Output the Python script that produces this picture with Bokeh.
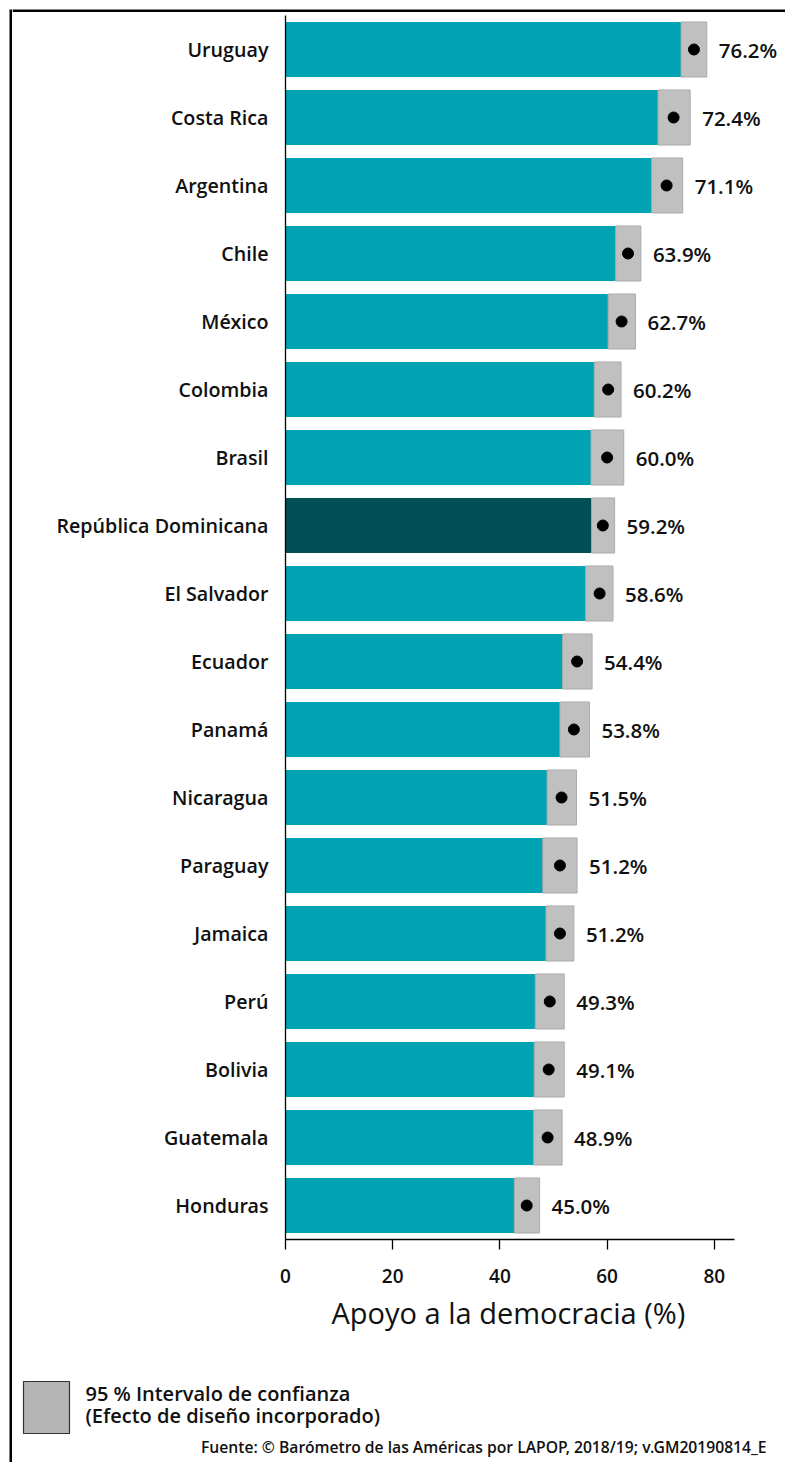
from bokeh.plotting import figure
from bokeh.layouts import row, column
from bokeh.models import FactorRange, Range1d, ColumnDataSource, FixedTicker, Title
from bokeh.embed import file_html
from bokeh.resources import INLINE
from bokeh.core.properties import value

countries = ["Uruguay", "Costa Rica", "Argentina", "Chile", "México", "Colombia",
             "Brasil", "República Dominicana", "El Salvador", "Ecuador", "Panamá",
             "Nicaragua", "Paraguay", "Jamaica", "Perú", "Bolivia", "Guatemala",
             "Honduras"]
support = [76.2, 72.4, 71.1, 63.9, 62.7, 60.2, 60.0, 59.2, 58.6, 54.4, 53.8,
           51.5, 51.2, 51.2, 49.3, 49.1, 48.9, 45.0]
ci_low = [73.8, 69.5, 68.3, 61.6, 60.2, 57.6, 57.0, 57.1, 56.0, 51.7, 51.2,
          48.8, 48.0, 48.6, 46.6, 46.4, 46.3, 42.7]
ci_high = [78.6, 75.5, 74.1, 66.3, 65.3, 62.6, 63.1, 61.4, 61.1, 57.2, 56.7,
           54.3, 54.4, 53.8, 52.0, 52.0, 51.6, 47.4]
highlight = "República Dominicana"
x_ticks = [0, 20, 40, 60, 80]
x_label = "Apoyo a la democracia (%)"
legend_lines = ["95 % Intervalo de confianza", "(Efecto de diseño incorporado)"]
source_text = "Fuente: © Barómetro de las Américas por LAPOP, 2018/19; v.GM20190814_E"

TEAL = "#00A3B1"
DARK = "#024F56"
CI_GRAY = "#C0C0C0"
FONT_SB = "Open Sans SemiBold"
INK = "#111111"


def blank(width, height, xr, yr):
    f = figure(width=width, height=height, x_range=xr, y_range=yr,
               x_axis_type=None, y_axis_type=None, output_backend="svg",
               toolbar_location=None, min_border=0, title=None,
               frame_align=False)
    f.outline_line_color = None
    f.xgrid.visible = False
    f.ygrid.visible = False
    f.background_fill_color = "white"
    f.border_fill_color = "white"
    return f


src = ColumnDataSource(dict(
    country=countries,
    support=support,
    lo=ci_low,
    hi=ci_high,
    label=[f"{v:.1f}%" for v in support],
    color=[DARK if c == highlight else TEAL for c in countries],
))

# ---- main chart ----
p = figure(width=773, height=1343,
           y_range=FactorRange(factors=list(reversed(countries))),
           x_range=Range1d(0, 93.28),
           output_backend="svg", toolbar_location=None, title=None,
           frame_align=False,
           min_border_left=273, min_border_right=0,
           min_border_top=3, min_border_bottom=116)
p.outline_line_color = None
p.xgrid.visible = False
p.ygrid.visible = False
p.background_fill_color = "white"
p.border_fill_color = "white"

p.hbar(y="country", left=0, right="support", height=0.81, source=src,
       fill_color="color", line_color=None)
p.hbar(y="country", left="lo", right="hi", height=0.81, source=src,
       fill_color=CI_GRAY, line_color="#ABABAB", line_width=1)
p.scatter(x="support", y="country", size=11, source=src, color="black")
p.text(x="hi", y="country", text="label", source=src, x_offset=12,
       text_baseline="middle", text_align="left", text_font=value(FONT_SB),
       text_font_size="20.5px", text_color=INK)

xa = p.xaxis[0]
xa.ticker = FixedTicker(ticks=x_ticks)
xa.bounds = (0, 83.8)
xa.minor_tick_line_color = None
xa.major_tick_out = 10
xa.major_tick_in = 0
xa.axis_line_color = "black"
xa.axis_line_width = 1.3
xa.major_tick_line_width = 1.3
xa.major_label_text_font = FONT_SB
xa.major_label_text_font_size = "19px"
xa.major_label_text_color = INK
xa.major_label_standoff = 19

ya = p.yaxis[0]
ya.major_tick_line_color = None
ya.major_tick_out = 0
ya.major_tick_in = 0
ya.minor_tick_line_color = None
ya.axis_line_color = "black"
ya.axis_line_width = 1.3
ya.major_label_standoff = 17
ya.major_label_text_font = FONT_SB
ya.major_label_text_font_size = "19.7px"
ya.major_label_text_font_style = "normal"
ya.major_label_text_color = INK

# axis title, centred on the drawn axis extent
p.add_layout(Title(text=x_label, align="left", offset=46, standoff=11,
                   text_font="Open Sans", text_font_size="29px",
                   text_font_style="normal", text_color=INK), "below")

# ---- frame lines of the whole graphic ----
left_strip = blank(12, 1462, Range1d(0, 12), Range1d(1462, 0))
left_strip.quad(left=[9], right=[11.5], top=[9], bottom=[1462],
                fill_color="black", line_color=None)
top_strip = blank(773, 12, Range1d(12, 785), Range1d(12, 0))
top_strip.quad(left=[12], right=[785], top=[9], bottom=[11.5],
               fill_color="black", line_color=None)

# ---- legend and source ----
foot = blank(773, 107, Range1d(12, 785), Range1d(1462, 1355))
foot.quad(left=[23], right=[69], top=[1381], bottom=[1433],
          fill_color="#B4B4B4", line_color="#333333", line_width=1.2)
foot.text(x=[85, 85], y=[1393, 1415], text=legend_lines,
          text_baseline="alphabetic", text_align="left", text_font=value(FONT_SB),
          text_font_size="20px", text_color=INK)
foot.text(x=[766], y=[1446], text=[source_text],
          text_baseline="alphabetic", text_align="right", text_font=value(FONT_SB),
          text_font_size="15.7px", text_color=INK)

layout = row(left_strip, column(top_strip, p, foot))
open("out.html", "w").write(file_html(layout, INLINE))
